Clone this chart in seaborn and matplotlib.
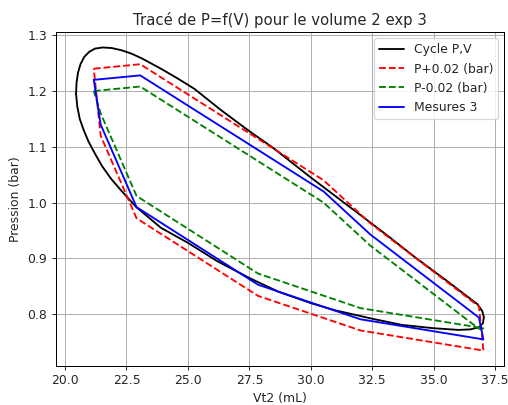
import numpy as np
import pandas as pd
import seaborn as sns
import matplotlib
matplotlib.use("Agg")
import matplotlib.pyplot as plt

# cycle P,V
cycle_v = [20.45, 20.47, 20.53, 20.63, 20.78, 20.98, 21.22, 21.53, 21.9, 22.3, 22.7, 23.1,
           23.9, 24.6, 25.26, 26.34, 27.5, 28.44, 30.0, 31.5, 33.0, 34.3, 35.5, 36.3,
           36.78, 36.97, 37.04, 37.0, 36.85, 36.5, 36.0, 35.0, 33.7, 32.5, 31.0, 30.0,
           28.7, 27.5, 26.2, 25.0, 23.9, 22.9, 22.3, 21.87, 21.5, 21.19, 20.95, 20.76,
           20.6, 20.5, 20.45]
cycle_p = [1.195, 1.215, 1.233, 1.248, 1.261, 1.270, 1.276, 1.278, 1.277, 1.273, 1.267, 1.259,
           1.240, 1.222, 1.204, 1.166, 1.128, 1.099, 1.045, 0.995, 0.945, 0.900, 0.861, 0.834,
           0.818, 0.806, 0.795, 0.784, 0.777, 0.773, 0.772, 0.775, 0.781, 0.792, 0.807, 0.820,
           0.840, 0.865, 0.895, 0.928, 0.955, 0.992, 1.021, 1.043, 1.066, 1.090, 1.110, 1.130,
           1.150, 1.172, 1.195]

# mesures 3
mes_v = [21.17, 23.06, 30.52, 32.42, 36.84, 37.02, 32.02, 27.85, 22.91, 21.45, 21.17]
mes_p = [1.220, 1.228, 1.020, 0.943, 0.794, 0.755, 0.791, 0.853, 0.992, 1.140, 1.220]
p_plus = [1.240, 1.248, 1.040, 0.963, 0.814, 0.735, 0.771, 0.833, 0.972, 1.120, 1.240]
p_minus = [1.200, 1.208, 1.000, 0.923, 0.774, 0.775, 0.811, 0.873, 1.012, 1.160, 1.200]

sns.set_style("ticks", {"axes.grid": True, "grid.color": "#b0b0b0",
                        "axes.edgecolor": "black"})
plt.rcParams['font.family'] = ['DejaVu Sans']

DPI = 89
fig = plt.figure(figsize=(508 / DPI, 405 / DPI), dpi=DPI)
ax = fig.add_axes([0.1096, 0.097, 0.8831, 0.8232])

sns.lineplot(x=cycle_v, y=cycle_p, sort=False, estimator=None, color='k',
             linewidth=1.5, label='Cycle P,V', ax=ax)
sns.lineplot(x=mes_v, y=p_plus, sort=False, estimator=None, color='r',
             linestyle='--', linewidth=1.5, label='P+0.02 (bar)', ax=ax)
sns.lineplot(x=mes_v, y=p_minus, sort=False, estimator=None, color='g',
             linestyle='--', linewidth=1.5, label='P-0.02 (bar)', ax=ax)
sns.lineplot(x=mes_v, y=mes_p, sort=False, estimator=None, color='b',
             linewidth=1.5, label='Mesures 3', ax=ax)

ax.grid(True, color='#b0b0b0', linewidth=0.8)
ax.set_title('Tracé de P=f(V) pour le volume 2 exp 3', fontsize=12)
ax.set_xlabel('Vt2 (mL)')
ax.set_ylabel('Pression (bar)')
ax.set_xticks(np.arange(20, 37.6, 2.5))
ax.legend(loc='upper right')

fig.savefig('out.png', dpi=DPI)
